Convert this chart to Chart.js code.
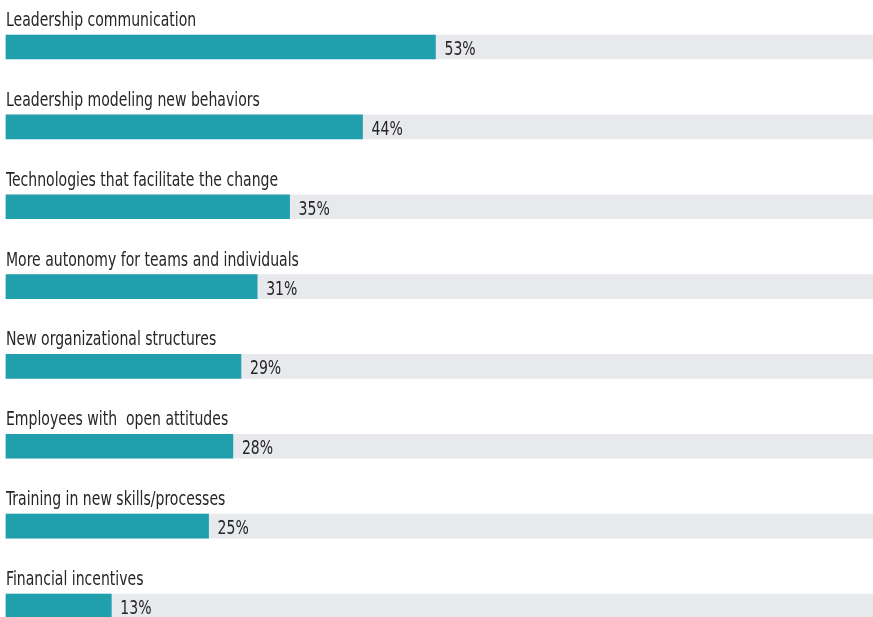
<!DOCTYPE html>
<html>
<head>
<meta charset="utf-8">
<script src="https://cdn.jsdelivr.net/npm/chart.js@4/dist/chart.umd.min.js"></script>
<style>
  html, body { margin: 0; padding: 0; background: #fff; }
  #wrap { width: 873px; height: 617px; position: relative; }
</style>
</head>
<body>
<div id="wrap"><canvas id="barChart"></canvas></div>
<script>
const categories = [
  "Leadership communication",
  "Leadership modeling new behaviors",
  "Technologies that facilitate the change",
  "More autonomy for teams and individuals",
  "New organizational structures",
  "Employees with  open attitudes",
  "Training in new skills/processes",
  "Financial incentives"
]
const shares = [53, 44, 35, 31, 29, 28, 25, 13]
const trackMax = 107
const tracks = categories.map(() => trackMax)

const FONT = '"DejaVu Sans Condensed", "Liberation Sans Narrow", sans-serif'
const TEXT_COLOR = "#262626"
const SQUEEZE = 0.78   // the original type is a condensed face

function narrowText(ctx, text, x, y) {
  ctx.save()
  ctx.translate(x, y)
  ctx.scale(SQUEEZE, 1)
  ctx.fillText(text, 0, 0)
  ctx.restore()
}

// ===============================
// LABELS (category above, value after bar)
// ===============================
const labelPlugin = {
  id: "rowLabels",
  afterDatasetsDraw(chart) {
    const ctx = chart.ctx
    const meta = chart.getDatasetMeta(1)
    ctx.save()
    ctx.fillStyle = TEXT_COLOR
    ctx.textAlign = "left"
    ctx.textBaseline = "alphabetic"
    meta.data.forEach((bar, i) => {
      ctx.font = "20px " + FONT
      narrowText(ctx, categories[i], chart.chartArea.left, bar.y - 21)
      ctx.font = "20px " + FONT
      narrowText(ctx, shares[i] + "%", bar.x + 9, bar.y + 8)
    })
    ctx.restore()
  }
}

const ctx = document.getElementById("barChart").getContext("2d")

new Chart(ctx, {
  type: "bar",
  data: {
    labels: categories,
    datasets: [
      {
        data: tracks,
        backgroundColor: "#e7e9ec",
        barThickness: 24,
        grouped: false,
        clip: false,
        order: 2
      },
      {
        data: shares,
        backgroundColor: "#229fad",
        barThickness: 24,
        grouped: false,
        clip: false,
        order: 1
      }
    ]
  },
  options: {
    indexAxis: "y",
    responsive: true,
    maintainAspectRatio: false,
    animation: false,
    layout: { padding: { left: 6, right: 0, top: 47, bottom: 11 } },
    plugins: {
      legend: { display: false },
      tooltip: { enabled: false }
    },
    scales: {
      x: { display: false, min: 0, max: trackMax },
      y: { display: false, offset: false }
    }
  },
  plugins: [labelPlugin]
})
</script>
</body>
</html>
